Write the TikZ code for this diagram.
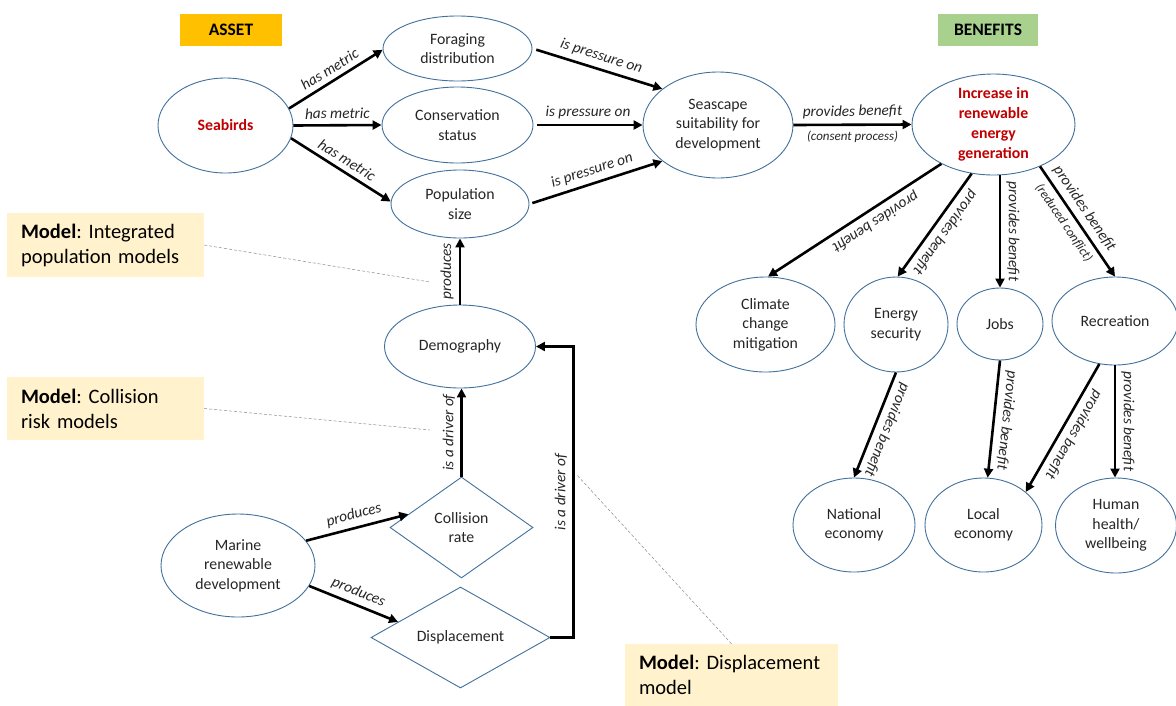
\documentclass[tikz,border=0pt]{standalone}
\usepackage{fontspec}
\setmainfont{Carlito}
\usetikzlibrary{shapes.geometric,arrows.meta,calc}

\definecolor{rimblue}{HTML}{41719C}
\definecolor{txt}{HTML}{262626}
\definecolor{assetfill}{HTML}{FFC000}
\definecolor{benefitfill}{HTML}{A9D18E}
\definecolor{modelfill}{HTML}{FFF2CC}
\definecolor{redtxt}{HTML}{C00000}

\newcommand\nodefont{\fontsize{15.8}{19.5}\selectfont}
\newcommand\nodefontbf{\fontsize{15.8}{20}\selectfont\bfseries}
\newcommand\edgefont{\fontsize{15.3}{17}\selectfont\itshape}
\newcommand\edgefontsmall{\fontsize{13}{15}\selectfont\itshape}
\newcommand\modelfont{\fontsize{20.5}{25}\selectfont\frenchspacing}
\newcommand\tagfont{\fontsize{17.5}{20}\selectfont\bfseries}

\tikzset{
  ctext/.style={align=center, text=txt, font=\nodefont, inner sep=0pt},
  concept/.style={ellipse, draw=rimblue, line width=0.9pt, fill=white, inner sep=0pt},
  decision/.style={diamond, draw=rimblue, line width=0.9pt, fill=white, inner sep=0pt, aspect=1},
  arr/.style={line width=2.6pt, black, -{Triangle[length=9pt,width=9pt]}},
  lab/.style={font=\edgefont, text=txt, sloped, allow upside down, inner sep=3pt},
  labsmall/.style={font=\edgefontsmall, text=txt, sloped, allow upside down, inner sep=3pt},
  leader/.style={draw=black!45, densely dashed, line width=0.5pt},
  modelbox/.style={fill=modelfill, font=\modelfont, text=black, align=left,
    inner xsep=14pt, inner ysep=0pt},
  tagbox/.style={font=\tagfont, text=black, inner sep=0pt}
}

\begin{document}
\begin{tikzpicture}[x=1pt,y=-1pt]
\fill[white] (0,0) rectangle (1176,705);
\useasboundingbox (0,0) rectangle (1176,705);

% section headers
\node[tagbox, fill=assetfill, minimum width=102, minimum height=32] (asset) at (231,30) {ASSET};
\node[tagbox, fill=benefitfill, minimum width=100, minimum height=32] (benefits) at (988,30) {BENEFITS};

% model notes
\node[modelbox, text width=169pt, minimum height=64] (modA) at (105.5,245)
  {\mbox{\textbf{Model}: Integrated}\\\mbox{population models}};
\node[modelbox, text width=169pt, minimum height=63] (modB) at (105.5,408.5)
  {\mbox{\textbf{Model}: Collision}\\\mbox{risk models}};
\node[modelbox, text width=185pt, minimum height=62] (modC) at (731.5,675)
  {\mbox{\textbf{Model}: Displacement}\\\mbox{model}};

% asset side
\node[concept, minimum width=135, minimum height=95,
  label={[ctext, font=\nodefontbf, text=redtxt]center:Seabirds}] (sea) at (225.5,125.5) {};
\node[concept, minimum width=149, minimum height=65,
  label={[ctext]center:{Foraging\\distribution}}] (for) at (457.5,48.5) {};
\node[concept, minimum width=151, minimum height=76,
  label={[ctext]center:{Conservation\\status}}] (con) at (457.5,125) {};
\node[concept, minimum width=138, minimum height=68,
  label={[ctext]center:{Population\\size}}] (pop) at (460,204) {};
\node[concept, minimum width=150, minimum height=106,
  label={[ctext]center:{Seascape\\suitability for\\development}}] (ssc) at (718,125) {};
\node[concept, minimum width=151, minimum height=83,
  label={[ctext]center:Demography}] (dem) at (460,346.5) {};
\node[decision, minimum width=143, minimum height=101,
  label={[ctext]center:{Collision\\rate}}] (col) at (461.5,527.5) {};
\node[decision, minimum width=179, minimum height=101,
  label={[ctext]center:Displacement}] (dis) at (460.5,637.5) {};
\node[concept, minimum width=154, minimum height=103,
  label={[ctext]center:{Marine\\renewable\\development}}] (mrd) at (238,565.5) {};

% benefit side
\node[concept, minimum width=163, minimum height=101,
  label={[ctext, font=\nodefontbf, text=redtxt]center:{Increase in\\renewable\\energy\\generation}}] (inc) at (993.5,124.5) {};
\node[concept, minimum width=139, minimum height=95,
  label={[ctext]center:{Climate\\change\\mitigation}}] (cli) at (765.5,324.5) {};
\node[concept, minimum width=104, minimum height=95,
  label={[ctext]center:{Energy\\security}}] (ens) at (896,324.5) {};
\node[concept, minimum width=86, minimum height=72,
  label={[ctext]center:Jobs}] (job) at (1000,324) {};
\node[concept, minimum width=126, minimum height=88,
  label={[ctext]center:Recreation}] (rec) at (1115,321) {};
\node[concept, minimum width=122, minimum height=94,
  label={[ctext]center:{National\\economy}}] (nat) at (854,525) {};
\node[concept, minimum width=117, minimum height=94,
  label={[ctext]center:{Local\\economy}}] (loc) at (983.5,525) {};
\node[concept, minimum width=121, minimum height=95,
  label={[ctext]center:{Human\\health/\\wellbeing}}] (hum) at (1116,525.5) {};

% metrics of the asset
\draw[arr] (sea.15) -- node[lab, above=2pt] {has metric} (for.181);
\draw[arr] (sea.east) -- node[lab, above=2pt] {has metric} (con.west);
\draw[arr] (sea.349) -- node[lab, above=2pt] {has metric} (pop.178);

% pressures on seascape suitability
\draw[arr, shorten <=4pt] (for.east) -- node[lab, above=2pt] {is pressure on} (ssc.147.5);
\draw[arr, shorten <=4pt] (con.east) -- node[lab, above=2pt] {is pressure on} (ssc.west);
\draw[arr, shorten <=3pt] (pop.east) -- node[lab, above=2pt] {is pressure on} (ssc.213);

% consent step
\draw[arr] (ssc.east) -- node[lab, above=2pt] {provides benefit}
  node[labsmall, below=2pt] {(consent process)} (inc.west);

% benefits cascade
\draw[arr] (inc.217) -- node[lab, above=2pt, pos=0.42] {provides benefit} (cli.87);
\draw[arr] (inc.246) -- node[lab, above=2pt, pos=0.5] {provides benefit} (ens.88);
\draw[arr] (job.north |- inc.south) -- node[lab, above=2pt] {provides benefit} (job.north);
\draw[arr] (inc.318) -- node[lab, above=2pt, pos=0.45] {provides benefit}
  node[labsmall, below=2pt, pos=0.45] {(reduced conflict)} (rec.north);
\draw[arr] (ens.south) -- node[lab, above=2pt] {provides benefit} (nat.north);
\draw[arr] (job.south) -- node[lab, above=2pt] {provides benefit} (loc.85);
\draw[arr] (rec.250) -- node[lab, above=2pt] {provides benefit} (loc.38);
\draw[arr] (rec.south) -- node[lab, above=2pt] {provides benefit} (rec.south |- hum.north);

% demographic chain
\draw[arr] (dem.north) -- node[lab, above=2pt] {produces} (pop.south);
\draw[arr] (col.north) -- node[lab, above=2pt] {is a driver of} (col.north |- dem.south);
\draw[arr] (dis.east) -- ++(23,0) |- node[lab, above=2pt, pos=0.25] {is a driver of} (dem.east);
\draw[arr] (mrd.20) -- node[lab, above=2pt] {produces} (col.166);
\draw[arr] (mrd.344) -- node[lab, above=2pt] {produces} (dis.166);

% leader lines from the model notes
\coordinate (tipA) at (430,282);
\coordinate (tipB) at (430,430);
\coordinate (tipC) at (577,475);
\draw[leader] (modA.east) -- (tipA);
\draw[leader] (modB.east) -- (tipB);
\draw[leader] (modC.north) -- (tipC);
\end{tikzpicture}
\end{document}
